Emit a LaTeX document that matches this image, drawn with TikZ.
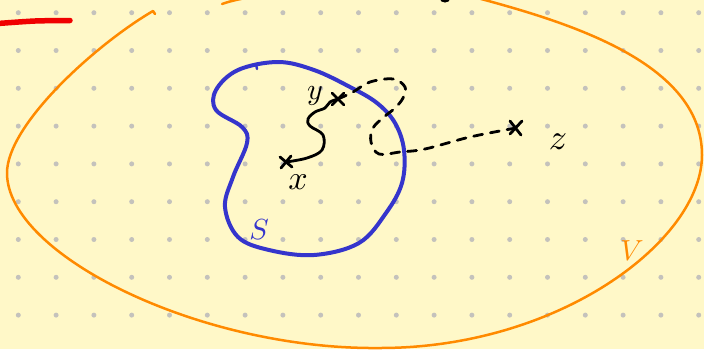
\documentclass[tikz,border=0pt]{standalone}
\begin{document}
\begin{tikzpicture}[x=1pt,y=-1pt,line cap=round,line join=round,
  dotpt/.style={fill=dotgray,draw=none},
  vset/.style={draw=vorange,line width=2.5pt},
  sset/.style={draw=sblue,line width=4pt},
  ink/.style={draw=black,line width=2.8pt},
  pathdash/.style={draw=black,line width=2.8pt,dash pattern=on 9pt off 8pt},
  hand/.style={inner sep=0pt,text=black}]
\definecolor{bgyellow}{HTML}{FFF8C8}
\definecolor{dotgray}{HTML}{C4C2BC}
\definecolor{vorange}{HTML}{FF8A00}
\definecolor{sblue}{HTML}{3535CC}
\definecolor{redink}{HTML}{F00000}
\useasboundingbox (0,0) rectangle (704,349);
\clip (0,0) rectangle (704,349);
\fill[bgyellow] (0,0) rectangle (704,349);
% dot grid
\foreach \i in {0,...,18}{
  \foreach \j in {0,...,8}{
    \fill[dotpt] ({18.3+37.8*\i},{12.7+37.8*\j}) circle (2.5pt);
  }
}
% red stroke
\draw[draw=redink,line width=5.5pt] plot[smooth] coordinates {(-2,23.5) (35,21) (70,20.5)};
% black blob at top
\fill[black] (445,-1) ellipse (5pt and 3.5pt);
% orange region V
\draw[vset] (155,14) -- (153,11)
  .. controls (95,45) and (7,125) .. (7,173)
  .. controls (7,255) and (200,350) .. (380,348)
  .. controls (560,348) and (702,240) .. (702,155)
  .. controls (702,60) and (560,20) .. (470,-4)
  .. controls (400,-20) and (260,-10) .. (222,4);
% blue set S
\draw[sset] plot[smooth cycle,tension=0.6] coordinates {
  (278,62) (314,70) (350,87) (377,103) (395,123) (404,150) (402,183)
  (386,213) (359,243) (314,255) (269,250) (238,237) (225,207) (233,177)
  (247,143) (242,127) (216,110) (216,90) (238,70)};
\draw[draw=sblue,line width=2.4pt] (256,64) -- (257,69);
% points
\coordinate (x) at (286,162);
\coordinate (y) at (338,99);
\coordinate (z) at (516,128);
% squiggle from x to y
\draw[ink] plot[smooth,tension=0.6] coordinates {(x) (307,158) (322,150)
  (323,135) (310,126) (308,119) (315,112) (325,108) (330,102) (y)};
% dashed path from y to z
\draw[pathdash] plot[smooth,tension=0.6] coordinates {(y) (353,92) (370,82)
  (393,79) (405,87) (403,98) (395,108) (384,117) (373,128) (371,142)
  (379,154) (400,152) (425,149) (470,137) (z)};
% crosses
\draw[ink] ([shift={(-6,-5)}]x) -- ([shift={(6,5)}]x) ([shift={(-5,6)}]x) -- ([shift={(5,-6)}]x);
\draw[ink] ([shift={(-6,-6)}]y) -- ([shift={(6,6)}]y) ([shift={(-6,6)}]y) -- ([shift={(6,-6)}]y);
\draw[ink] ([shift={(-6,-7)}]z) -- ([shift={(5,7)}]z) ([shift={(-6,6)}]z) -- ([shift={(6,-7)}]z);
% labels
\node[hand,scale=3.4] (xl) at (298,182) {$x$};
\node[hand,scale=3.0] (yl) at (315,96) {$y$};
\node[hand,scale=3.6] (zl) at (558,142) {$z$};
\node[hand,scale=2.9,text=sblue] (sl) at (259,230) {$S$};
\node[hand,scale=2.9,text=vorange] (vl) at (632,251) {$V$};
\end{tikzpicture}
\end{document}
